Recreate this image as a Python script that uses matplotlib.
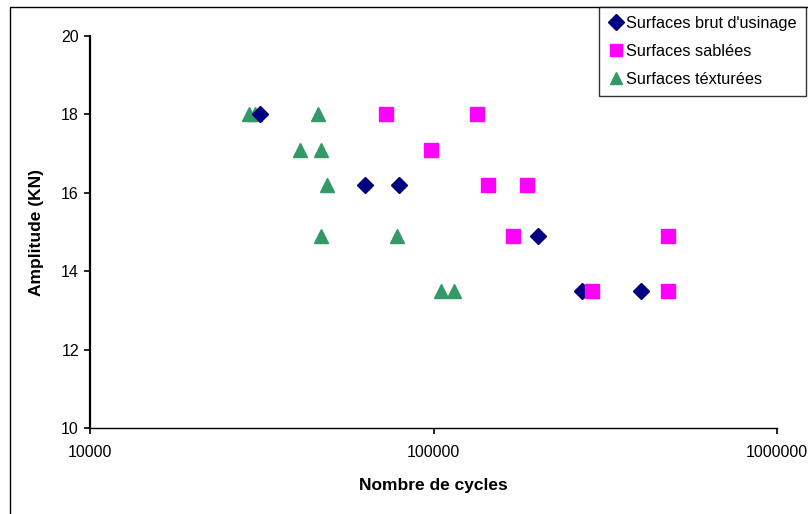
import matplotlib
matplotlib.use("Agg")
import matplotlib.pyplot as plt
from matplotlib.patches import Rectangle
from matplotlib.ticker import FixedLocator, NullLocator

plt.rcParams['font.family'] = ['Liberation Sans', 'DejaVu Sans']

# Data
brut_x = [31300, 63200, 79200, 201500, 271000, 401000]
brut_y = [18.0, 16.2, 16.2, 14.9, 13.5, 13.5]

sable_x = [72900, 134000, 98200, 144000, 187000, 170000, 482000, 289000, 482000]
sable_y = [18.0, 18.0, 17.1, 16.2, 16.2, 14.9, 14.9, 13.5, 13.5]

text_x = [29000, 30200, 46100, 40900, 46900, 48900, 47200, 78500, 105000, 114600]
text_y = [18.0, 18.0, 18.0, 17.1, 17.1, 16.2, 14.9, 14.9, 13.5, 13.5]

labels = ["Surfaces brut d'usinage", "Surfaces sablées", "Surfaces téxturées"]
xticks = [10000, 100000, 1000000]
yticks = [10, 12, 14, 16, 18, 20]

W, H = 808, 514
fig = plt.figure(figsize=(W / 100, H / 100), dpi=100)
ax = fig.add_axes([90 / W, (H - 428) / H, (777 - 90) / W, (428 - 36) / H])

ax.plot(brut_x, brut_y, linestyle='none', marker='D', markersize=8,
        color='#000080', label=labels[0], zorder=3)
ax.plot(sable_x, sable_y, linestyle='none', marker='s', markersize=9.5,
        color='#FF00FF', label=labels[1], zorder=4)
ax.plot(text_x, text_y, linestyle='none', marker='^', markersize=10,
        color='#339966', label=labels[2], zorder=2)

ax.set_xscale('log')
ax.set_xlim(10000, 1000000)
ax.set_ylim(10, 20)
ax.xaxis.set_major_locator(FixedLocator(xticks))
ax.xaxis.set_minor_locator(NullLocator())
ax.set_xticklabels([str(v) for v in xticks])
ax.set_yticks(yticks)
ax.set_yticklabels([str(v) for v in yticks])

for s in ['top', 'right']:
    ax.spines[s].set_visible(False)
ax.spines['left'].set_linewidth(1.6)
ax.spines['bottom'].set_linewidth(1.0)
ax.tick_params(axis='both', direction='out', length=4, width=1.2,
               labelsize=11.5, colors='black')
ax.tick_params(axis='x', pad=8)
ax.tick_params(axis='y', pad=4)

ax.set_xlabel('Nombre de cycles', fontsize=12.5, fontweight='bold', labelpad=13)
ax.set_ylabel('Amplitude (KN)', fontsize=12.5, fontweight='bold', labelpad=12)

leg = fig.legend(loc='upper right', bbox_to_anchor=(806 / W, 1 - 7 / H),
                 bbox_transform=fig.transFigure, fontsize=11.7, frameon=True,
                 fancybox=False, borderpad=0.55, handletextpad=0.15,
                 handlelength=1.0, labelspacing=0.8, borderaxespad=0)
leg.get_frame().set_edgecolor('black')
leg.get_frame().set_linewidth(1.0)
for h in leg.legend_handles:
    h.set_markersize(8)

# outer chart frame (left and top edges visible)
fig.patches.append(Rectangle((10 / W, -0.1), 1.2, 1 - 7 / H + 0.1,
                             transform=fig.transFigure, fill=False,
                             edgecolor='black', linewidth=1.0, zorder=0))

fig.savefig('out.png', dpi=100)
